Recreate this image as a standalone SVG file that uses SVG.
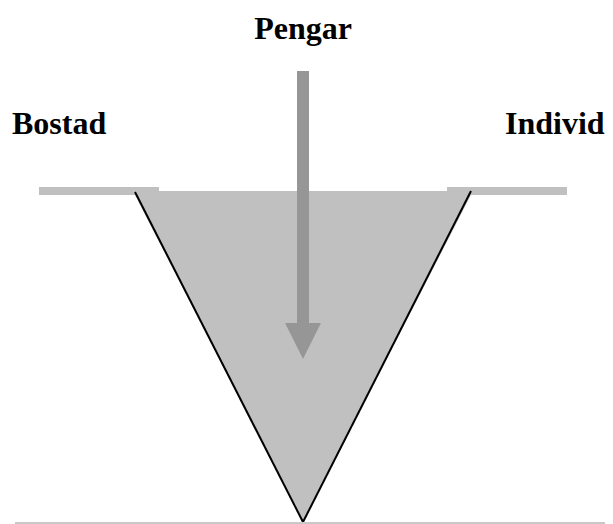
<svg xmlns="http://www.w3.org/2000/svg" width="613" height="524" viewBox="0 0 613 524">
<style>
.lbl{font-family:"Liberation Serif","Times New Roman",serif;font-weight:bold;font-size:32px;fill:#000}
.bar{fill:#c0c0c0}
.edge{stroke:#000;stroke-width:2;fill:none}
.arrow{fill:#969696}
</style>
<rect width="613" height="524" fill="#fff"/>
<g id="funnel">
<polygon points="133,191 473,191 303,522" fill="#c0c0c0"/>
<rect class="bar" x="39" y="187" width="120" height="8"/>
<rect class="bar" x="447" y="187" width="120" height="8"/>
<line class="edge" x1="135" y1="192" x2="303" y2="522"/>
<line class="edge" x1="471" y1="191" x2="303" y2="522"/>
<rect x="15" y="522" width="590" height="2" fill="#c8c8c8"/>
</g>
<g id="connectors">
<rect class="arrow" x="297" y="71" width="12" height="253"/>
<polygon class="arrow" points="285,323 321,323 303,359"/>
</g>
<g id="pengar"><text class="lbl" x="303" y="39" text-anchor="middle">Pengar</text></g>
<g id="bostad"><text class="lbl" x="12" y="134">Bostad</text></g>
<g id="individ"><text class="lbl" x="505" y="134">Individ</text></g>
</svg>
